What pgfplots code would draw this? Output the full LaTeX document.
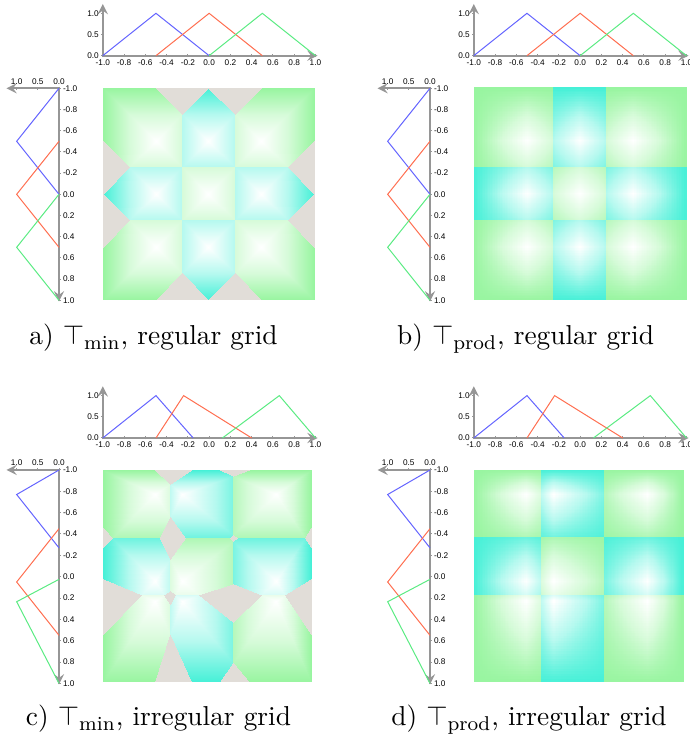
\documentclass[border=0pt]{standalone}
\usepackage{fontspec}
\usepackage{pgfplots}
\pgfplotsset{compat=1.18}
\usepgfplotslibrary{patchplots}
\usetikzlibrary{arrows.meta}
\newfontfamily\ticksf{Liberation Sans}
\definecolor{mfblue}{RGB}{100,100,255}
\definecolor{mfred}{RGB}{255,110,80}
\definecolor{mfgreen}{RGB}{90,235,130}
\definecolor{axgray}{RGB}{150,150,150}
\pgfplotsset{
  colormap={gc}{rgb255(0cm)=(152,245,160); rgb255(0.5cm)=(214,251,217); rgb255(1cm)=(255,255,255); rgb255(1.5cm)=(181,249,239); rgb255(2cm)=(70,240,215); rgb255(3cm)=(225,221,216)},
  heat/.style={hide axis, scale only axis, anchor=center, xmin=-1, xmax=1, ymin=-1, ymax=1, y dir=reverse, colormap name=gc, point meta min=0, point meta max=3},
  mfbase/.style={scale only axis, anchor=center, clip=false,
    axis line style={draw=axgray, line width=0.8pt},
    x axis line style={-{Straight Barb[color=black,length=1.3pt,width=2.6pt]}},
    y axis line style={-{Straight Barb[color=black,length=1.3pt,width=2.6pt]}},
    tick align=outside, major tick length=1.2pt,
    tick style={draw=axgray, line width=0.4pt},
    ticklabel style={font=\ticksf\fontsize{3.3}{4}\selectfont, text=black, inner sep=0.8pt}},
  topmf/.style={mfbase, width=85.92pt, height=20.68pt, xmin=-1, xmax=1.02, ymin=0, ymax=1.22,
    axis x line=bottom, axis y line=left,
    xtick={-1,-0.8,-0.6,-0.4,-0.2,0,0.2,0.4,0.6,0.8,1},
    xticklabels={-1.0,-0.8,-0.6,-0.4,-0.2,0.0,0.2,0.4,0.6,0.8,1.0},
    ytick={0,0.5,1}, yticklabels={0.0,0.5,1.0}},
  leftmf/.style={mfbase, width=21pt, x dir=reverse, y dir=reverse, xmin=0, xmax=1.24, ymin=-1, ymax=1.01,
    axis x line=top, axis y line=right,
    xtick={0,0.5,1}, xticklabels={0.0,0.5,1.0},
    ytick={-1,-0.8,-0.6,-0.4,-0.2,0,0.2,0.4,0.6,0.8,1},
    yticklabels={-1.0,-0.8,-0.6,-0.4,-0.2,0.0,0.2,0.4,0.6,0.8,1.0}},
  mfline/.style={line width=0.4pt, mark=none},
  patchstyle/.style={patch, shader=interp, point meta=explicit},
}
\begin{document}
\begin{tikzpicture}[x=0.4pt,y=0.4pt]
\useasboundingbox (0,0) rectangle (690,741);
% ================= panel a =================
\begin{axis}[heat, width=84.4pt, height=84.8pt, at={(83.4pt,218.8pt)}]
\addplot[patchstyle] table[row sep=\\, meta=c] {x y c\\
-0.5 -0.5 1\\ -1 -1 0\\ -0.25 -1 0\\
-0.5 -0.5 1\\ -0.25 -1 0\\ -0.25 -0.75 0.5\\
-0.5 -0.5 1\\ -0.25 -0.75 0.5\\ -0.25 -0.25 0.5\\
-0.5 -0.5 1\\ -0.25 -0.25 0.5\\ -0.75 -0.25 0.5\\
-0.5 -0.5 1\\ -0.75 -0.25 0.5\\ -1 -0.25 0\\
-0.5 -0.5 1\\ -1 -0.25 0\\ -1 -1 0\\
0 -0.5 1\\ -0.25 -1 2\\ 0.25 -1 2\\
0 -0.5 1\\ 0.25 -1 2\\ 0.25 -0.75 1.5\\
0 -0.5 1\\ 0.25 -0.75 1.5\\ 0.25 -0.25 1.5\\
0 -0.5 1\\ 0.25 -0.25 1.5\\ -0.25 -0.25 1.5\\
0 -0.5 1\\ -0.25 -0.25 1.5\\ -0.25 -0.75 1.5\\
0 -0.5 1\\ -0.25 -0.75 1.5\\ -0.25 -1 2\\
0.5 -0.5 1\\ 0.25 -1 0\\ 1 -1 0\\
0.5 -0.5 1\\ 1 -1 0\\ 1 -0.25 0\\
0.5 -0.5 1\\ 1 -0.25 0\\ 0.75 -0.25 0.5\\
0.5 -0.5 1\\ 0.75 -0.25 0.5\\ 0.25 -0.25 0.5\\
0.5 -0.5 1\\ 0.25 -0.25 0.5\\ 0.25 -0.75 0.5\\
0.5 -0.5 1\\ 0.25 -0.75 0.5\\ 0.25 -1 0\\
-0.5 0 1\\ -1 -0.25 2\\ -0.75 -0.25 1.5\\
-0.5 0 1\\ -0.75 -0.25 1.5\\ -0.25 -0.25 1.5\\
-0.5 0 1\\ -0.25 -0.25 1.5\\ -0.25 0.25 1.5\\
-0.5 0 1\\ -0.25 0.25 1.5\\ -0.75 0.25 1.5\\
-0.5 0 1\\ -0.75 0.25 1.5\\ -1 0.25 2\\
-0.5 0 1\\ -1 0.25 2\\ -1 -0.25 2\\
0 0 1\\ -0.25 -0.25 0.5\\ 0.25 -0.25 0.5\\
0 0 1\\ 0.25 -0.25 0.5\\ 0.25 0.25 0.5\\
0 0 1\\ 0.25 0.25 0.5\\ -0.25 0.25 0.5\\
0 0 1\\ -0.25 0.25 0.5\\ -0.25 -0.25 0.5\\
0.5 0 1\\ 0.25 -0.25 1.5\\ 0.75 -0.25 1.5\\
0.5 0 1\\ 0.75 -0.25 1.5\\ 1 -0.25 2\\
0.5 0 1\\ 1 -0.25 2\\ 1 0.25 2\\
0.5 0 1\\ 1 0.25 2\\ 0.75 0.25 1.5\\
0.5 0 1\\ 0.75 0.25 1.5\\ 0.25 0.25 1.5\\
0.5 0 1\\ 0.25 0.25 1.5\\ 0.25 -0.25 1.5\\
-0.5 0.5 1\\ -1 0.25 0\\ -0.75 0.25 0.5\\
-0.5 0.5 1\\ -0.75 0.25 0.5\\ -0.25 0.25 0.5\\
-0.5 0.5 1\\ -0.25 0.25 0.5\\ -0.25 0.75 0.5\\
-0.5 0.5 1\\ -0.25 0.75 0.5\\ -0.25 1 0\\
-0.5 0.5 1\\ -0.25 1 0\\ -1 1 0\\
-0.5 0.5 1\\ -1 1 0\\ -1 0.25 0\\
0 0.5 1\\ -0.25 0.25 1.5\\ 0.25 0.25 1.5\\
0 0.5 1\\ 0.25 0.25 1.5\\ 0.25 0.75 1.5\\
0 0.5 1\\ 0.25 0.75 1.5\\ 0.25 1 2\\
0 0.5 1\\ 0.25 1 2\\ -0.25 1 2\\
0 0.5 1\\ -0.25 1 2\\ -0.25 0.75 1.5\\
0 0.5 1\\ -0.25 0.75 1.5\\ -0.25 0.25 1.5\\
0.5 0.5 1\\ 0.25 0.25 0.5\\ 0.75 0.25 0.5\\
0.5 0.5 1\\ 0.75 0.25 0.5\\ 1 0.25 0\\
0.5 0.5 1\\ 1 0.25 0\\ 1 1 0\\
0.5 0.5 1\\ 1 1 0\\ 0.25 1 0\\
0.5 0.5 1\\ 0.25 1 0\\ 0.25 0.75 0.5\\
0.5 0.5 1\\ 0.25 0.75 0.5\\ 0.25 0.25 0.5\\
};
\addplot[patchstyle] table[row sep=\\, meta=c] {x y c\\
-0.5 -1 3\\ -0.25 -0.75 3\\ 0 -1 3\\
0 -1 3\\ 0.25 -0.75 3\\ 0.5 -1 3\\
-0.5 1 3\\ -0.25 0.75 3\\ 0 1 3\\
0 1 3\\ 0.25 0.75 3\\ 0.5 1 3\\
-1 -0.5 3\\ -0.75 -0.25 3\\ -1 0 3\\
-1 0 3\\ -0.75 0.25 3\\ -1 0.5 3\\
1 -0.5 3\\ 0.75 -0.25 3\\ 1 0 3\\
1 0 3\\ 0.75 0.25 3\\ 1 0.5 3\\
};
\end{axis}
\begin{axis}[topmf, at={(84.08pt,284.46pt)}]
\addplot[mfline, mfblue] coordinates {(-1,0) (-0.5,1) (0,0)};
\addplot[mfline, mfred] coordinates {(-0.5,0) (0,1) (0.5,0)};
\addplot[mfline, mfgreen] coordinates {(0,0) (0.5,1) (1,0)};
\end{axis}
\begin{axis}[leftmf, height=85.24pt, at={(13.1pt,218.46pt)}]
\addplot[mfline, mfblue] coordinates {(0,-1) (1,-0.5) (0,0)};
\addplot[mfline, mfred] coordinates {(0,-0.5) (1,0) (0,0.5)};
\addplot[mfline, mfgreen] coordinates {(0,0) (1,0.5) (0,1)};
\end{axis}
% ================= panel b =================
\begin{axis}[heat, width=84.8pt, height=84.8pt, at={(232pt,218.8pt)}]
\addplot[patchstyle, patch type=bilinear] table[row sep=\\, meta=c] {x y c\\
-1 -1 0\\ -0.5 -1 0\\ -0.5 -0.5 1\\ -1 -0.5 0\\
-0.5 -1 0\\ -0.25 -1 0\\ -0.25 -0.5 0.5\\ -0.5 -0.5 1\\
-0.25 -1 2\\ 0 -1 2\\ 0 -0.5 1\\ -0.25 -0.5 1.5\\
0 -1 2\\ 0.25 -1 2\\ 0.25 -0.5 1.5\\ 0 -0.5 1\\
0.25 -1 0\\ 0.5 -1 0\\ 0.5 -0.5 1\\ 0.25 -0.5 0.5\\
0.5 -1 0\\ 1 -1 0\\ 1 -0.5 0\\ 0.5 -0.5 1\\
-1 -0.5 0\\ -0.5 -0.5 1\\ -0.5 -0.25 0.5\\ -1 -0.25 0\\
-0.5 -0.5 1\\ -0.25 -0.5 0.5\\ -0.25 -0.25 0.25\\ -0.5 -0.25 0.5\\
-0.25 -0.5 1.5\\ 0 -0.5 1\\ 0 -0.25 1.5\\ -0.25 -0.25 1.75\\
0 -0.5 1\\ 0.25 -0.5 1.5\\ 0.25 -0.25 1.75\\ 0 -0.25 1.5\\
0.25 -0.5 0.5\\ 0.5 -0.5 1\\ 0.5 -0.25 0.5\\ 0.25 -0.25 0.25\\
0.5 -0.5 1\\ 1 -0.5 0\\ 1 -0.25 0\\ 0.5 -0.25 0.5\\
-1 -0.25 2\\ -0.5 -0.25 1.5\\ -0.5 0 1\\ -1 0 2\\
-0.5 -0.25 1.5\\ -0.25 -0.25 1.75\\ -0.25 0 1.5\\ -0.5 0 1\\
-0.25 -0.25 0.25\\ 0 -0.25 0.5\\ 0 0 1\\ -0.25 0 0.5\\
0 -0.25 0.5\\ 0.25 -0.25 0.25\\ 0.25 0 0.5\\ 0 0 1\\
0.25 -0.25 1.75\\ 0.5 -0.25 1.5\\ 0.5 0 1\\ 0.25 0 1.5\\
0.5 -0.25 1.5\\ 1 -0.25 2\\ 1 0 2\\ 0.5 0 1\\
-1 0 2\\ -0.5 0 1\\ -0.5 0.25 1.5\\ -1 0.25 2\\
-0.5 0 1\\ -0.25 0 1.5\\ -0.25 0.25 1.75\\ -0.5 0.25 1.5\\
-0.25 0 0.5\\ 0 0 1\\ 0 0.25 0.5\\ -0.25 0.25 0.25\\
0 0 1\\ 0.25 0 0.5\\ 0.25 0.25 0.25\\ 0 0.25 0.5\\
0.25 0 1.5\\ 0.5 0 1\\ 0.5 0.25 1.5\\ 0.25 0.25 1.75\\
0.5 0 1\\ 1 0 2\\ 1 0.25 2\\ 0.5 0.25 1.5\\
-1 0.25 0\\ -0.5 0.25 0.5\\ -0.5 0.5 1\\ -1 0.5 0\\
-0.5 0.25 0.5\\ -0.25 0.25 0.25\\ -0.25 0.5 0.5\\ -0.5 0.5 1\\
-0.25 0.25 1.75\\ 0 0.25 1.5\\ 0 0.5 1\\ -0.25 0.5 1.5\\
0 0.25 1.5\\ 0.25 0.25 1.75\\ 0.25 0.5 1.5\\ 0 0.5 1\\
0.25 0.25 0.25\\ 0.5 0.25 0.5\\ 0.5 0.5 1\\ 0.25 0.5 0.5\\
0.5 0.25 0.5\\ 1 0.25 0\\ 1 0.5 0\\ 0.5 0.5 1\\
-1 0.5 0\\ -0.5 0.5 1\\ -0.5 1 0\\ -1 1 0\\
-0.5 0.5 1\\ -0.25 0.5 0.5\\ -0.25 1 0\\ -0.5 1 0\\
-0.25 0.5 1.5\\ 0 0.5 1\\ 0 1 2\\ -0.25 1 2\\
0 0.5 1\\ 0.25 0.5 1.5\\ 0.25 1 2\\ 0 1 2\\
0.25 0.5 0.5\\ 0.5 0.5 1\\ 0.5 1 0\\ 0.25 1 0\\
0.5 0.5 1\\ 1 0.5 0\\ 1 1 0\\ 0.5 1 0\\
};
\end{axis}
\begin{axis}[topmf, at={(232.48pt,284.46pt)}]
\addplot[mfline, mfblue] coordinates {(-1,0) (-0.5,1) (0,0)};
\addplot[mfline, mfred] coordinates {(-0.5,0) (0,1) (0.5,0)};
\addplot[mfline, mfgreen] coordinates {(0,0) (0.5,1) (1,0)};
\end{axis}
\begin{axis}[leftmf, height=85.24pt, at={(161.5pt,218.46pt)}]
\addplot[mfline, mfblue] coordinates {(0,-1) (1,-0.5) (0,0)};
\addplot[mfline, mfred] coordinates {(0,-0.5) (1,0) (0,0.5)};
\addplot[mfline, mfgreen] coordinates {(0,0) (1,0.5) (0,1)};
\end{axis}
% ================= panel c =================
\begin{axis}[heat, width=83.2pt, height=84.8pt, at={(82.8pt,66pt)}]
\addplot[patchstyle] table[row sep=\\, meta=c] {x y c\\
-0.5 -0.77 1\\ -1 -1 0\\ -0.351 -1 0\\
-0.5 -0.77 1\\ -0.351 -1 0\\ -0.351 -0.868 0.574\\
-0.5 -0.77 1\\ -0.351 -0.868 0.574\\ -0.351 -0.557 0.574\\
-0.5 -0.77 1\\ -0.351 -0.557 0.574\\ -0.351 -0.36 0.18\\
-0.5 -0.77 1\\ -0.351 -0.36 0.18\\ -0.91 -0.36 0.18\\
-0.5 -0.77 1\\ -0.91 -0.36 0.18\\ -1 -0.36 0\\
-0.5 -0.77 1\\ -1 -0.36 0\\ -1 -1 0\\
-0.24 -0.77 1\\ -0.351 -1 2\\ 0.25 -1 2\\
-0.24 -0.77 1\\ 0.25 -1 2\\ 0.25 -0.946 1.766\\
-0.24 -0.77 1\\ 0.25 -0.946 1.766\\ 0.25 -0.387 1.766\\
-0.24 -0.77 1\\ 0.25 -0.387 1.766\\ 0.25 -0.36 1.82\\
-0.24 -0.77 1\\ 0.25 -0.36 1.82\\ -0.351 -0.36 1.82\\
-0.24 -0.77 1\\ -0.351 -0.36 1.82\\ -0.351 -0.557 1.426\\
-0.24 -0.77 1\\ -0.351 -0.557 1.426\\ -0.351 -0.868 1.426\\
-0.24 -0.77 1\\ -0.351 -0.868 1.426\\ -0.351 -1 2\\
0.66 -0.77 1\\ 0.25 -1 0\\ 1 -1 0\\
0.66 -0.77 1\\ 1 -1 0\\ 1 -0.36 0\\
0.66 -0.77 1\\ 1 -0.36 0\\ 0.939 -0.36 0.18\\
0.66 -0.77 1\\ 0.939 -0.36 0.18\\ 0.25 -0.36 0.18\\
0.66 -0.77 1\\ 0.25 -0.36 0.18\\ 0.25 -0.387 0.234\\
0.66 -0.77 1\\ 0.25 -0.387 0.234\\ 0.25 -0.946 0.234\\
0.66 -0.77 1\\ 0.25 -0.946 0.234\\ 0.25 -1 0\\
-0.5 0.05 1\\ -1 -0.36 2\\ -0.91 -0.36 1.82\\
-0.5 0.05 1\\ -0.91 -0.36 1.82\\ -0.351 -0.36 1.82\\
-0.5 0.05 1\\ -0.351 -0.36 1.82\\ -0.351 -0.163 1.426\\
-0.5 0.05 1\\ -0.351 -0.163 1.426\\ -0.351 0.18 1.426\\
-0.5 0.05 1\\ -0.351 0.18 1.426\\ -0.409 0.18 1.261\\
-0.5 0.05 1\\ -0.409 0.18 1.261\\ -0.63 0.18 1.261\\
-0.5 0.05 1\\ -0.63 0.18 1.261\\ -1 0.18 2\\
-0.5 0.05 1\\ -1 0.18 2\\ -1 -0.36 2\\
-0.24 0.05 1\\ -0.351 -0.36 0.18\\ 0.25 -0.36 0.18\\
-0.24 0.05 1\\ 0.25 -0.36 0.18\\ 0.25 -0.333 0.234\\
-0.24 0.05 1\\ 0.25 -0.333 0.234\\ 0.25 0.18 0.234\\
-0.24 0.05 1\\ 0.25 0.18 0.234\\ -0.073 0.18 0.739\\
-0.24 0.05 1\\ -0.073 0.18 0.739\\ -0.308 0.18 0.739\\
-0.24 0.05 1\\ -0.308 0.18 0.739\\ -0.351 0.18 0.574\\
-0.24 0.05 1\\ -0.351 0.18 0.574\\ -0.351 -0.163 0.574\\
-0.24 0.05 1\\ -0.351 -0.163 0.574\\ -0.351 -0.36 0.18\\
0.66 0.05 1\\ 0.25 -0.36 1.82\\ 0.939 -0.36 1.82\\
0.66 0.05 1\\ 0.939 -0.36 1.82\\ 1 -0.36 2\\
0.66 0.05 1\\ 1 -0.36 2\\ 1 0.18 2\\
0.66 0.05 1\\ 1 0.18 2\\ 0.749 0.18 1.261\\
0.66 0.05 1\\ 0.749 0.18 1.261\\ 0.52 0.18 1.261\\
0.66 0.05 1\\ 0.52 0.18 1.261\\ 0.25 0.18 1.766\\
0.66 0.05 1\\ 0.25 0.18 1.766\\ 0.25 -0.333 1.766\\
0.66 0.05 1\\ 0.25 -0.333 1.766\\ 0.25 -0.36 1.82\\
-0.5 0.235 1\\ -1 0.18 0\\ -0.63 0.18 0.739\\
-0.5 0.235 1\\ -0.63 0.18 0.739\\ -0.409 0.18 0.739\\
-0.5 0.235 1\\ -0.409 0.18 0.739\\ -0.351 0.18 0.574\\
-0.5 0.235 1\\ -0.351 0.18 0.574\\ -0.351 0.561 0.574\\
-0.5 0.235 1\\ -0.351 0.561 0.574\\ -0.351 1 0\\
-0.5 0.235 1\\ -0.351 1 0\\ -1 1 0\\
-0.5 0.235 1\\ -1 1 0\\ -1 0.18 0\\
-0.24 0.235 1\\ -0.351 0.18 1.426\\ -0.308 0.18 1.261\\
-0.24 0.235 1\\ -0.308 0.18 1.261\\ -0.073 0.18 1.261\\
-0.24 0.235 1\\ -0.073 0.18 1.261\\ 0.25 0.18 1.766\\
-0.24 0.235 1\\ 0.25 0.18 1.766\\ 0.25 0.821 1.766\\
-0.24 0.235 1\\ 0.25 0.821 1.766\\ 0.25 1 2\\
-0.24 0.235 1\\ 0.25 1 2\\ -0.351 1 2\\
-0.24 0.235 1\\ -0.351 1 2\\ -0.351 0.561 1.426\\
-0.24 0.235 1\\ -0.351 0.561 1.426\\ -0.351 0.18 1.426\\
0.66 0.235 1\\ 0.25 0.18 0.234\\ 0.52 0.18 0.739\\
0.66 0.235 1\\ 0.52 0.18 0.739\\ 0.749 0.18 0.739\\
0.66 0.235 1\\ 0.749 0.18 0.739\\ 1 0.18 0\\
0.66 0.235 1\\ 1 0.18 0\\ 1 1 0\\
0.66 0.235 1\\ 1 1 0\\ 0.25 1 0\\
0.66 0.235 1\\ 0.25 1 0\\ 0.25 0.821 0.234\\
0.66 0.235 1\\ 0.25 0.821 0.234\\ 0.25 0.18 0.234\\
};
\addplot[patchstyle] table[row sep=\\, meta=c] {x y c\\
-0.5 -1 3\\ -0.351 -0.868 3\\ -0.15 -1 3\\
-0.351 -0.557 3\\ -0.213 -0.36 3\\ -0.351 -0.163 3\\
-0.351 -0.557 3\\ -0.351 -0.163 3\\ -0.453 -0.36 3\\
-0.5 1 3\\ -0.351 0.561 3\\ -0.15 1 3\\
0.125 -1 3\\ 0.25 -0.946 3\\ 0.4 -1 3\\
0.25 -0.387 3\\ 0.285 -0.36 3\\ 0.25 -0.333 3\\
0.25 -0.387 3\\ 0.25 -0.333 3\\ 0.221 -0.36 3\\
0.125 1 3\\ 0.25 0.821 3\\ 0.4 1 3\\
-1 -0.45 3\\ -0.91 -0.36 3\\ -1 -0.27 3\\
1 -0.45 3\\ 0.939 -0.36 3\\ 1 -0.27 3\\
-1 0.025 3\\ -0.63 0.18 3\\ -1 0.55 3\\
-0.409 0.18 3\\ -0.351 0.1455 3\\ -0.308 0.18 3\\
-0.409 0.18 3\\ -0.308 0.18 3\\ -0.351 0.263 3\\
-0.073 0.18 3\\ 0.25 0.074 3\\ 0.52 0.18 3\\
-0.073 0.18 3\\ 0.52 0.18 3\\ 0.25 0.433 3\\
1 0.025 3\\ 0.749 0.18 3\\ 1 0.55 3\\
};
\end{axis}
\begin{axis}[topmf, at={(84.08pt,131.54pt)}]
\addplot[mfline, mfblue] coordinates {(-1,0) (-0.5,1) (-0.15,0)};
\addplot[mfline, mfred] coordinates {(-0.5,0) (-0.24,1) (0.4,0)};
\addplot[mfline, mfgreen] coordinates {(0.125,0) (0.66,1) (1,0)};
\end{axis}
\begin{axis}[leftmf, height=85.76pt, at={(13.1pt,65.52pt)}]
\addplot[mfline, mfblue] coordinates {(0,-1) (1,-0.77) (0,-0.27)};
\addplot[mfline, mfred] coordinates {(0,-0.45) (1,0.05) (0,0.55)};
\addplot[mfline, mfgreen] coordinates {(0,0.025) (1,0.235) (0,1)};
\end{axis}
% ================= panel d =================
\begin{axis}[heat, width=83.6pt, height=84.8pt, at={(231.4pt,66pt)}]
\addplot[patchstyle, patch type=bilinear] table[row sep=\\, meta=c] {x y c\\
-1 -1 0\\ -0.5 -1 0\\ -0.5 -0.77 1\\ -1 -0.77 0\\
-0.5 -1 0\\ -0.351 -1 0\\ -0.351 -0.77 0.574\\ -0.5 -0.77 1\\
-0.351 -1 2\\ -0.24 -1 2\\ -0.24 -0.77 1\\ -0.351 -0.77 1.426\\
-0.24 -1 2\\ 0.25 -1 2\\ 0.25 -0.77 1.766\\ -0.24 -0.77 1\\
0.25 -1 0\\ 0.66 -1 0\\ 0.66 -0.77 1\\ 0.25 -0.77 0.234\\
0.66 -1 0\\ 1 -1 0\\ 1 -0.77 0\\ 0.66 -0.77 1\\
-1 -0.77 0\\ -0.5 -0.77 1\\ -0.5 -0.36 0.18\\ -1 -0.36 0\\
-0.5 -0.77 1\\ -0.351 -0.77 0.574\\ -0.351 -0.36 0.103\\ -0.5 -0.36 0.18\\
-0.351 -0.77 1.426\\ -0.24 -0.77 1\\ -0.24 -0.36 1.82\\ -0.351 -0.36 1.897\\
-0.24 -0.77 1\\ 0.25 -0.77 1.766\\ 0.25 -0.36 1.958\\ -0.24 -0.36 1.82\\
0.25 -0.77 0.234\\ 0.66 -0.77 1\\ 0.66 -0.36 0.18\\ 0.25 -0.36 0.042\\
0.66 -0.77 1\\ 1 -0.77 0\\ 1 -0.36 0\\ 0.66 -0.36 0.18\\
-1 -0.36 2\\ -0.5 -0.36 1.82\\ -0.5 0.05 1\\ -1 0.05 2\\
-0.5 -0.36 1.82\\ -0.351 -0.36 1.897\\ -0.351 0.05 1.426\\ -0.5 0.05 1\\
-0.351 -0.36 0.103\\ -0.24 -0.36 0.18\\ -0.24 0.05 1\\ -0.351 0.05 0.574\\
-0.24 -0.36 0.18\\ 0.25 -0.36 0.042\\ 0.25 0.05 0.234\\ -0.24 0.05 1\\
0.25 -0.36 1.958\\ 0.66 -0.36 1.82\\ 0.66 0.05 1\\ 0.25 0.05 1.766\\
0.66 -0.36 1.82\\ 1 -0.36 2\\ 1 0.05 2\\ 0.66 0.05 1\\
-1 0.05 2\\ -0.5 0.05 1\\ -0.5 0.18 1.261\\ -1 0.18 2\\
-0.5 0.05 1\\ -0.351 0.05 1.426\\ -0.351 0.18 1.576\\ -0.5 0.18 1.261\\
-0.351 0.05 0.574\\ -0.24 0.05 1\\ -0.24 0.18 0.739\\ -0.351 0.18 0.424\\
-0.24 0.05 1\\ 0.25 0.05 0.234\\ 0.25 0.18 0.173\\ -0.24 0.18 0.739\\
0.25 0.05 1.766\\ 0.66 0.05 1\\ 0.66 0.18 1.261\\ 0.25 0.18 1.827\\
0.66 0.05 1\\ 1 0.05 2\\ 1 0.18 2\\ 0.66 0.18 1.261\\
-1 0.18 0\\ -0.5 0.18 0.739\\ -0.5 0.235 1\\ -1 0.235 0\\
-0.5 0.18 0.739\\ -0.351 0.18 0.424\\ -0.351 0.235 0.574\\ -0.5 0.235 1\\
-0.351 0.18 1.576\\ -0.24 0.18 1.261\\ -0.24 0.235 1\\ -0.351 0.235 1.426\\
-0.24 0.18 1.261\\ 0.25 0.18 1.827\\ 0.25 0.235 1.766\\ -0.24 0.235 1\\
0.25 0.18 0.173\\ 0.66 0.18 0.739\\ 0.66 0.235 1\\ 0.25 0.235 0.234\\
0.66 0.18 0.739\\ 1 0.18 0\\ 1 0.235 0\\ 0.66 0.235 1\\
-1 0.235 0\\ -0.5 0.235 1\\ -0.5 1 0\\ -1 1 0\\
-0.5 0.235 1\\ -0.351 0.235 0.574\\ -0.351 1 0\\ -0.5 1 0\\
-0.351 0.235 1.426\\ -0.24 0.235 1\\ -0.24 1 2\\ -0.351 1 2\\
-0.24 0.235 1\\ 0.25 0.235 1.766\\ 0.25 1 2\\ -0.24 1 2\\
0.25 0.235 0.234\\ 0.66 0.235 1\\ 0.66 1 0\\ 0.25 1 0\\
0.66 0.235 1\\ 1 0.235 0\\ 1 1 0\\ 0.66 1 0\\
};
\end{axis}
\begin{axis}[topmf, at={(232.48pt,131.54pt)}]
\addplot[mfline, mfblue] coordinates {(-1,0) (-0.5,1) (-0.15,0)};
\addplot[mfline, mfred] coordinates {(-0.5,0) (-0.24,1) (0.4,0)};
\addplot[mfline, mfgreen] coordinates {(0.125,0) (0.66,1) (1,0)};
\end{axis}
\begin{axis}[leftmf, height=85.76pt, at={(161.5pt,65.52pt)}]
\addplot[mfline, mfblue] coordinates {(0,-1) (1,-0.77) (0,-0.27)};
\addplot[mfline, mfred] coordinates {(0,-0.45) (1,0.05) (0,0.55)};
\addplot[mfline, mfgreen] coordinates {(0,0.025) (1,0.235) (0,1)};
\end{axis}
% ================= captions =================
\node[anchor=base, font=\fontsize{10.95}{13}\selectfont] at (153.5,396) {a) $\top_{\mathrm{min}}$, regular grid};
\node[anchor=base, font=\fontsize{10.95}{13}\selectfont] at (525.5,396) {b) $\top_{\mathrm{prod}}$, regular grid};
\node[anchor=base, font=\fontsize{10.95}{13}\selectfont] at (158.5,15) {c) $\top_{\mathrm{min}}$, irregular grid};
\node[anchor=base, font=\fontsize{10.95}{13}\selectfont] at (529,15) {d) $\top_{\mathrm{prod}}$, irregular grid};
\end{tikzpicture}
\end{document}
